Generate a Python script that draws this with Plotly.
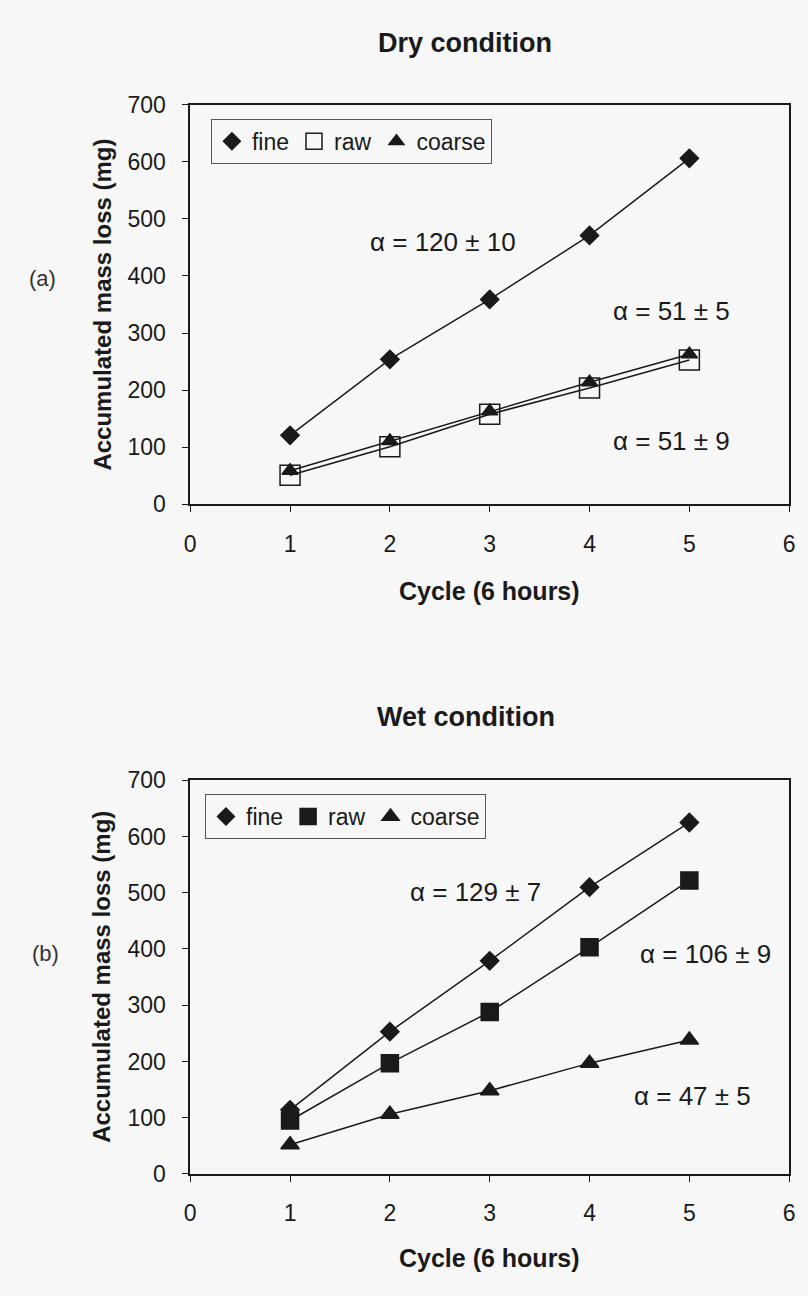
import plotly.graph_objects as go

cycles = [1, 2, 3, 4, 5]

dry_fine = [121, 254, 359, 471, 606]
dry_raw = [51, 101, 158, 204, 253]
dry_coarse = [59, 111, 163, 214, 263]

wet_fine = [114, 253, 379, 510, 625]
wet_raw = [95, 197, 288, 403, 522]
wet_coarse = [52, 106, 148, 197, 238]

series_names = ["fine", "raw", "coarse"]
x_ticks = [0, 1, 2, 3, 4, 5, 6]
y_ticks = [0, 100, 200, 300, 400, 500, 600, 700]

dry_labels = [("α = 120 ± 10", 2.53, 460), ("α = 51 ± 5", 4.82, 339), ("α = 51 ± 9", 4.82, 111)]
wet_labels = [("α = 129 ± 7", 2.86, 502), ("α = 106 ± 9", 5.16, 391), ("α = 47 ± 5", 5.03, 139)]

FONT = "Liberation Sans, Arial, sans-serif"
INK = "#1a1a1a"
BG = "#f7f7f7"

fig = go.Figure()

def add_panel(xa, ya, legend, vals, symbols, sizes, leg_sizes):
    for name, v, sym, sz in zip(series_names, vals, symbols, sizes):
        fig.add_trace(go.Scatter(
            x=cycles, y=v, mode="lines+markers", name=name,
            xaxis=xa, yaxis=ya, showlegend=False,
            line=dict(color=INK, width=1.5),
            marker=dict(symbol=sym, size=sz, color=INK, line=dict(color=INK, width=1.5)),
        ))
    for name, sym, sz in zip(series_names, symbols, leg_sizes):
        fig.add_trace(go.Scatter(
            x=[None], y=[None], mode="markers", name=name,
            xaxis=xa, yaxis=ya, legend=legend, showlegend=True,
            marker=dict(symbol=sym, size=sz, color=INK, line=dict(color=INK, width=1.5)),
        ))

add_panel("x", "y", "legend", [dry_fine, dry_raw, dry_coarse],
          ["diamond", "square-open", "triangle-up"], [14, 20, 14], [13, 16, 13])
add_panel("x2", "y2", "legend2", [wet_fine, wet_raw, wet_coarse],
          ["diamond", "square", "triangle-up"], [14, 17, 16], [13, 16, 15])

axis_common = dict(
    range=[0, 6], tickvals=x_ticks, showgrid=False, zeroline=False,
    showline=True, linecolor=INK, linewidth=1.5, mirror=True,
    ticks="outside", ticklen=6, tickcolor=INK, tickwidth=1,
    tickfont=dict(family=FONT, size=23, color=INK), ticklabelstandoff=12,
)
yaxis_common = dict(
    range=[0, 700], tickvals=y_ticks, showgrid=False, zeroline=False,
    showline=True, linecolor=INK, linewidth=1.5, mirror=True,
    ticks="outside", ticklen=6, tickcolor=INK, tickwidth=1,
    tickfont=dict(family=FONT, size=23, color=INK), ticklabelstandoff=12,
)

top_dom = [1 - 501.5 / 1296, 1 - 93.5 / 1296]
bot_dom = [1 - 1184.7 / 1296, 1 - 783 / 1296]
x_dom = [187 / 808, 795 / 808]

legend_common = dict(
    orientation="h", xanchor="left", yanchor="top",
    bgcolor="rgba(0,0,0,0)", bordercolor="#555", borderwidth=1,
    font=dict(family=FONT, size=23, color=INK),
    itemwidth=30, tracegroupgap=0,
)

annotations = []
for text, x, y in dry_labels:
    annotations.append(dict(text=text, x=x, y=y, xref="x", yref="y", showarrow=False,
                            font=dict(family=FONT, size=26, color=INK)))
for text, x, y in wet_labels:
    annotations.append(dict(text=text, x=x, y=y, xref="x2", yref="y2", showarrow=False,
                            font=dict(family=FONT, size=26, color=INK)))

for cy in [(94 + 502) / 2, (783 + 1185) / 2]:
    annotations.append(dict(text="<b>Accumulated mass loss (mg)</b>", x=97 / 808, y=1 - cy / 1296,
                            xref="paper", yref="paper", showarrow=False, textangle=-90,
                            font=dict(family=FONT, size=24, color=INK),
                            xanchor="center", yanchor="middle"))
for ty in [590, 1270]:
    annotations.append(dict(text="<b>Cycle (6 hours)</b>", x=491 / 808, y=1 - ty / 1296,
                            xref="paper", yref="paper", showarrow=False,
                            font=dict(family=FONT, size=25, color=INK),
                            xanchor="center", yanchor="middle"))
for text, tx, ty in [("<b>Dry condition</b>", 466, 31), ("<b>Wet condition</b>", 467, 718)]:
    annotations.append(dict(text=text, x=tx / 808, y=1 - ty / 1296, xref="paper", yref="paper",
                            showarrow=False, font=dict(family=FONT, size=27, color=INK),
                            xanchor="center", yanchor="middle"))
for text, tx, ty in [("(a)", 37, 271), ("(b)", 40, 960)]:
    annotations.append(dict(text=text, x=tx / 808, y=1 - ty / 1296, xref="paper", yref="paper",
                            showarrow=False, font=dict(family=FONT, size=22, color="#333"),
                            xanchor="center", yanchor="middle"))

fig.update_layout(
    width=808, height=1296,
    margin=dict(l=0, r=0, t=0, b=0),
    paper_bgcolor=BG, plot_bgcolor=BG,
    xaxis=dict(domain=x_dom, anchor="y", **axis_common),
    yaxis=dict(domain=top_dom, anchor="x", **yaxis_common),
    xaxis2=dict(domain=x_dom, anchor="y2", **axis_common),
    yaxis2=dict(domain=bot_dom, anchor="x2", **yaxis_common),
    legend=dict(x=208 / 808, y=1 - 108 / 1296, **legend_common),
    legend2=dict(x=202 / 808, y=1 - 797 / 1296, **legend_common),
    annotations=annotations,
    font=dict(family=FONT, color=INK),
)

fig.write_html("out.html")
